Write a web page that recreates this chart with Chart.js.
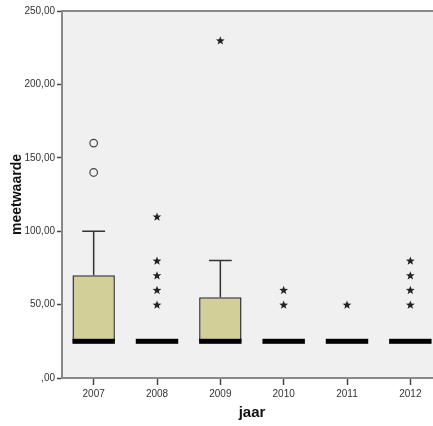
<!DOCTYPE html>
<html>
<head>
    <meta charset="utf-8">
    <title>meetwaarde per jaar</title>
    <script src="https://cdn.jsdelivr.net/npm/chart.js@4.4.1/dist/chart.umd.min.js"></script>
    <style>
        html, body { margin: 0; padding: 0; background: #fff; overflow: hidden; }
        #wrap { width: 450px; height: 426px; }
    </style>
</head>
<body>
    <div id="wrap"><canvas id="myChart" width="450" height="426"></canvas></div>
    <script>
        // data
        const categories = ['2007', '2008', '2009', '2010', '2011', '2012'];
        const whiskerLow = [25, 25, 25, 25, 25, 25];
        const q1 = [25, 25, 25, 25, 25, 25];
        const median = [25, 25, 25, 25, 25, 25];
        const q3 = [70, 25, 55, 25, 25, 25];
        const whiskerHigh = [100, 25, 80, 25, 25, 25];
        // outliers (circles) and extremes (stars)
        const circleOutliers = [[140, 160], [], [], [], [], []];
        const starOutliers = [[], [50, 60, 70, 80, 110], [230], [50, 60], [50], [50, 60, 70, 80]];
        const yTickLabels = [',00', '50,00', '100,00', '150,00', '200,00', '250,00'];

        const sans = "'Liberation Sans', Arial, sans-serif";

        const circlePts = [];
        const starPts = [];
        categories.forEach(function (cat, i) {
            circleOutliers[i].forEach(v => circlePts.push({ x: cat, y: v }));
            starOutliers[i].forEach(v => starPts.push({ x: cat, y: v }));
        });

        // plot background + top frame line
        const frame = {
            id: 'frame',
            beforeDraw(chart) {
                const a = chart.chartArea, ctx = chart.ctx;
                ctx.save();
                ctx.fillStyle = '#f0f0f0';
                ctx.fillRect(a.left, a.top, a.right - a.left, a.bottom - a.top);
                ctx.strokeStyle = '#888';
                ctx.lineWidth = 2;
                ctx.beginPath();
                ctx.moveTo(a.left, a.top);
                ctx.lineTo(a.right, a.top);
                ctx.stroke();
                ctx.restore();
            }
        };

        // whiskers, medians and star marks drawn through the scales
        const boxParts = {
            id: 'boxParts',
            beforeDatasetsDraw(chart) {
                const x = chart.scales.x, y = chart.scales.y, ctx = chart.ctx;
                ctx.save();
                ctx.strokeStyle = '#333';
                ctx.lineWidth = 1.5;
                categories.forEach(function (cat, i) {
                    const cx = x.getPixelForValue(i);
                    const step = x.getPixelForValue(1) - x.getPixelForValue(0);
                    const capW = step * 0.18;
                    if (whiskerHigh[i] > q3[i]) {
                        ctx.beginPath();
                        ctx.moveTo(cx, y.getPixelForValue(q3[i]));
                        ctx.lineTo(cx, y.getPixelForValue(whiskerHigh[i]));
                        ctx.moveTo(cx - capW, y.getPixelForValue(whiskerHigh[i]));
                        ctx.lineTo(cx + capW, y.getPixelForValue(whiskerHigh[i]));
                        ctx.stroke();
                    }
                    if (whiskerLow[i] < q1[i]) {
                        ctx.beginPath();
                        ctx.moveTo(cx, y.getPixelForValue(q1[i]));
                        ctx.lineTo(cx, y.getPixelForValue(whiskerLow[i]));
                        ctx.moveTo(cx - capW, y.getPixelForValue(whiskerLow[i]));
                        ctx.lineTo(cx + capW, y.getPixelForValue(whiskerLow[i]));
                        ctx.stroke();
                    }
                });
                ctx.restore();
            },
            afterDatasetDraw(chart, args) {
                const ctx = chart.ctx;
                const meta = chart.getDatasetMeta(args.index);
                if (args.index === 0) {
                    const y = chart.scales.y;
                    ctx.save();
                    ctx.fillStyle = '#000';
                    meta.data.forEach(function (bar, i) {
                        const w = bar.width;
                        const my = y.getPixelForValue(median[i]);
                        ctx.fillRect(bar.x - w / 2, my - 2.5, w, 5);
                    });
                    ctx.restore();
                }
                if (args.index === 2) {
                    // five-pointed filled star at each extreme point
                    ctx.save();
                    ctx.fillStyle = '#222';
                    meta.data.forEach(function (pt) {
                        const R = 4.6, r = R * 0.42;
                        ctx.beginPath();
                        for (let k = 0; k < 10; k++) {
                            const rad = k % 2 === 0 ? R : r;
                            const a = -Math.PI / 2 + k * Math.PI / 5;
                            ctx.lineTo(pt.x + rad * Math.cos(a), pt.y + 0.5 + rad * Math.sin(a));
                        }
                        ctx.closePath();
                        ctx.fill();
                    });
                    ctx.restore();
                }
            }
        };

        const config = {
            type: 'bar',
            data: {
                labels: categories,
                datasets: [
                    {
                        data: categories.map((c, i) => [q1[i], q3[i]]),
                        backgroundColor: '#d3cf98',
                        borderColor: '#333',
                        borderWidth: 1.5,
                        borderSkipped: false,
                        barPercentage: 0.67,
                        categoryPercentage: 1.0
                    },
                    {
                        type: 'line',
                        data: circlePts,
                        showLine: false,
                        pointStyle: 'circle',
                        pointRadius: 3.8,
                        pointBorderWidth: 1.2,
                        pointBorderColor: '#444',
                        pointBackgroundColor: 'rgba(0,0,0,0)'
                    },
                    {
                        type: 'line',
                        data: starPts,
                        showLine: false,
                        pointRadius: 0
                    }
                ]
            },
            options: {
                responsive: false,
                devicePixelRatio: 1,
                animation: false,
                layout: { padding: { left: 0, right: 8, top: 11, bottom: 0 } },
                plugins: {
                    legend: { display: false },
                    tooltip: { enabled: false }
                },
                scales: {
                    x: {
                        grid: {
                            offset: false,
                            drawOnChartArea: false,
                            drawTicks: true,
                            tickLength: 7,
                            tickColor: '#444',
                            tickWidth: 1.5
                        },
                        border: { display: true, color: '#888', width: 2 },
                        ticks: {
                            color: '#333',
                            padding: 3,
                            maxRotation: 0,
                            font: { family: sans, size: 10 }
                        },
                        title: {
                            display: true,
                            text: 'jaar',
                            color: '#111',
                            padding: { top: 0, bottom: 4 },
                            font: { family: sans, size: 15, weight: 'bold' }
                        },
                        afterFit(scale) { scale.height = 48; }
                    },
                    y: {
                        min: 0,
                        max: 250,
                        ticks: {
                            stepSize: 50,
                            color: '#333',
                            padding: 2,
                            font: { family: sans, size: 10 },
                            callback: function (value, index) { return yTickLabels[index]; }
                        },
                        grid: {
                            drawOnChartArea: false,
                            drawTicks: true,
                            tickLength: 5,
                            tickColor: '#444',
                            tickWidth: 1.5
                        },
                        border: { display: true, color: '#888', width: 2 },
                        title: {
                            display: true,
                            text: 'meetwaarde',
                            color: '#111',
                            padding: { top: 9, bottom: 0 },
                            font: { family: sans, size: 14, weight: 'bold' }
                        },
                        afterFit(scale) { scale.width = 62; }
                    }
                }
            },
            plugins: [frame, boxParts]
        };

        const myChart = new Chart(document.getElementById('myChart'), config);
    </script>
</body>
</html>
